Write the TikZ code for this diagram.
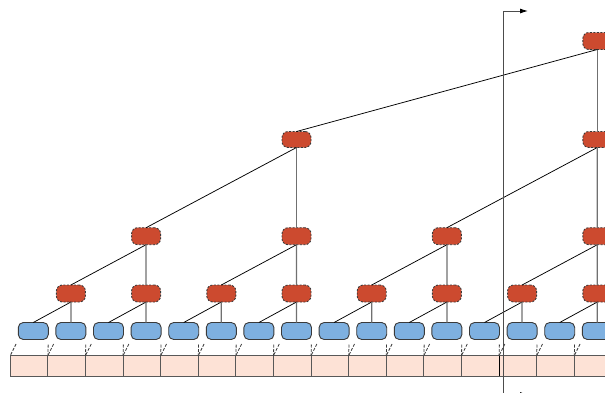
\documentclass[tikz,border=0pt]{standalone}
\usetikzlibrary{arrows.meta}
\definecolor{nodered}{HTML}{CC4A2F}
\definecolor{leafblue}{HTML}{7EB0E0}
\definecolor{cellpeach}{HTML}{FDE2D6}
\definecolor{edgegray}{HTML}{3A3A3A}
\definecolor{stemgray}{HTML}{707070}
\begin{document}
\begin{tikzpicture}[x=1pt,y=-1pt,
  leaf/.style={draw=edgegray, line width=0.9pt, fill=leafblue, rounded corners=5pt,
    minimum width=30pt, minimum height=17pt, inner sep=0pt, outer sep=0pt},
  inner/.style={draw=edgegray, line width=0.9pt, dash pattern=on 2pt off 1.5pt,
    fill=nodered, rounded corners=6pt, minimum width=29pt, minimum height=17pt,
    inner sep=0pt, outer sep=0pt},
  cell/.style={draw=edgegray!85, line width=0.9pt, fill=cellpeach,
    minimum width=37.6pt, minimum height=20.5pt, inner sep=0pt, outer sep=0pt},
  diag/.style={black, line width=0.75pt},
  vert/.style={stemgray, line width=1.25pt},
  guide/.style={edgegray, line width=0.8pt, dash pattern=on 3pt off 1.5pt, shorten <=5pt},
  axis/.style={gray!60!black, line width=0.9pt},
]
\useasboundingbox (0,0) rectangle (605,392);

% array cells and leaf blocks
\foreach \k in {0,...,15} {
  \node[cell] (c\k) at ({29.1+37.6*\k},365.75) {};
}
\draw[black, line width=1.1pt] (c13.north west) -- (c13.south west);
\foreach \k in {0,...,15} {
  \node[leaf] (b\k) at ({33.3+37.6*\k},331) {};
  \draw[guide] (b\k.south west) -- (c\k.north west);
  \draw[guide] (b\k.south east) -- (c\k.north east);
}

% level 1
\foreach \j in {0,...,7} {
  \pgfmathtruncatemacro{\l}{2*\j}
  \pgfmathtruncatemacro{\r}{2*\j+1}
  \node[inner] (p\j) at ({70.9+75.2*\j},293.5) {};
  \draw[diag] (p\j.south) -- (b\l.north);
  \draw[vert] (p\j.south) -- (b\r.north);
}

% level 2
\foreach \m in {0,...,3} {
  \pgfmathtruncatemacro{\l}{2*\m}
  \pgfmathtruncatemacro{\r}{2*\m+1}
  \node[inner] (q\m) at ({146.1+150.4*\m},236.2) {};
  \draw[diag] (q\m.south) -- (p\l.north);
  \draw[vert] (q\m.south) -- (p\r.north);
}

% level 3
\foreach \n in {0,1} {
  \pgfmathtruncatemacro{\l}{2*\n}
  \pgfmathtruncatemacro{\r}{2*\n+1}
  \node[inner, minimum height=16pt] (s\n) at ({296.5+300.8*\n},139.5) {};
  \draw[diag] (s\n.south) -- (q\l.north);
  \draw[vert] (s\n.south) -- (q\r.north);
}

% root
\node[inner] (t) at (597.3,41) {};
\draw[diag] (t.south) -- (s0.north);
\draw[vert] (t.south) -- (s1.north);

% cursor line with arrows
\coordinate (axtop) at (503.3,11);
\coordinate (axtopend) at (528,11);
\coordinate (axbot) at (503.3,394.5);
\coordinate (axbotend) at (528,394.5);
\draw[axis, -{Latex[length=8pt,width=5pt,black]}] (axbot) -- (axtop) -- (axtopend);
\draw[axis, -{Latex[length=8pt,width=5pt,black]}] (axbot) -- (axbotend);
\end{tikzpicture}
\end{document}
